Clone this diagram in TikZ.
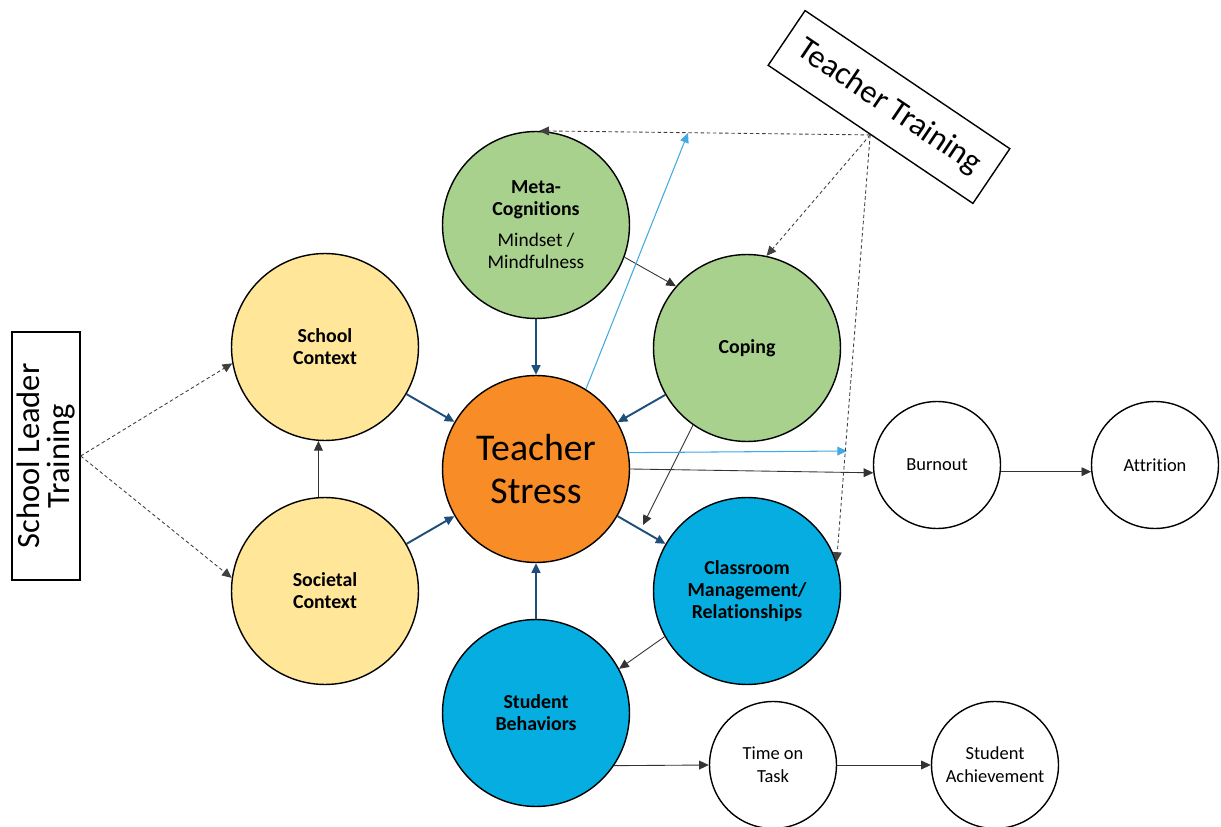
\documentclass[tikz,border=0pt]{standalone}
\usepackage{fontspec}
\setmainfont[Ligatures=NoCommon]{Carlito}
\usetikzlibrary{arrows.meta,positioning,calc}
\definecolor{ctxyellow}{RGB}{255,230,153}
\definecolor{cogngreen}{RGB}{169,209,142}
\definecolor{stressorange}{RGB}{248,140,38}
\definecolor{classblue}{RGB}{5,173,224}
\definecolor{linknavy}{RGB}{31,78,121}
\definecolor{linkcyan}{RGB}{64,170,225}

\begin{document}
\begin{tikzpicture}[x=0.02cm, y=-0.02cm,
        >={Triangle[length=5.5pt,width=5pt]},
        bigcirc/.style={circle, draw, line width=0.8pt, minimum size=3.74cm, inner sep=0pt, align=center, font=\fontsize{11.3}{12.6}\selectfont\bfseries},
        smallcirc/.style={circle, draw, line width=0.8pt, minimum size=2.54cm, inner sep=0pt, align=center, font=\fontsize{10.5}{13}\selectfont},
        trainbox/.style={draw, line width=0.8pt, inner sep=0pt, align=center, font=\fontsize{18.5}{17}\selectfont},
        feed/.style={->, linknavy, line width=1.1pt},
        link/.style={->, black!80, line width=0.5pt},
        spill/.style={->, linkcyan, line width=0.6pt},
        train/.style={->, black!75, dash pattern=on 2pt off 1.5pt, line width=0.5pt}]
        \useasboundingbox (0,0) rectangle (1221,827);

        % factors
        \node[bigcirc, fill=cogngreen] (meta) at (536,225) {Meta-\\Cognitions\\[5pt]{\mdseries\fontsize{11}{12.6}\selectfont Mindset /}\\{\mdseries\fontsize{11}{12.6}\selectfont Mindfulness}};
        \node[bigcirc, fill=ctxyellow] (school) at (325,347) {School\\Context};
        \node[bigcirc, fill=ctxyellow] (societal) at (325,591) {Societal\\Context};
        \node[bigcirc, fill=cogngreen] (coping) at (747,348) {Coping};
        \node[bigcirc, fill=stressorange, font=\fontsize{21.5}{24.4}\selectfont] (stress) at (536,469) {Teacher\\Stress};
        \node[bigcirc, fill=classblue] (classroom) at (747,591) {Classroom\\Management/\\Relationships};
        \node[bigcirc, fill=classblue] (students) at (536,713) {Student\\Behaviors};

        % outcomes
        \node[smallcirc] (burnout) at (937,465) {Burnout};
        \node[smallcirc] (attrition) at (1155,465) {Attrition};
        \node[smallcirc] (timetask) at (773,765) {Time on\\Task};
        \node[smallcirc] (achieve) at (995,765) {Student\\Achievement};

        % trainings
        \node[trainbox, rotate=-34, minimum width=4.94cm, minimum height=1.32cm] (teachtrain) at (889,107) {Teacher Training};
        \node[trainbox, rotate=90, minimum width=4.96cm, minimum height=1.36cm] (leadtrain) at (46,456) {School Leader\\Training};

        \coordinate (cyanup) at (688,133);
        \coordinate (cyanright) at (847,451);
        \coordinate (copingend) at (643,525);

        \draw[feed] (school) -- (stress);
        \draw[feed] (societal) -- (stress);
        \draw[feed] (meta) -- (stress);
        \draw[feed] (coping) -- (stress);
        \draw[feed] (students) -- (stress);
        \draw[feed] (stress) -- (classroom);

        \draw[link] (societal.94) -- (school.266);
        \draw[link] (meta.-20) -- (coping.139);
        \draw[link] (coping.235) -- (copingend);
        \draw[link] (classroom.209) -- (students.28);
        \draw[link] (stress.east) -- (burnout.187);
        \draw[link] (burnout.-6) -- (attrition.186);
        \draw[link] (students.-34) -- (timetask.west);
        \draw[link] (timetask.east) -- (achieve.west);

        \draw[spill] (stress.58) -- (cyanup);
        \draw[spill] (stress.10) -- (cyanright);

        \draw[train] (teachtrain.south) -- (meta.88);
        \draw[train] (teachtrain.south) -- (coping.78);
        \draw[train] (teachtrain.south) -- (classroom.18);
        \draw[train] (leadtrain.south) -- (school.190);
        \draw[train] (leadtrain.south) -- (societal.172);
\end{tikzpicture}
\end{document}
